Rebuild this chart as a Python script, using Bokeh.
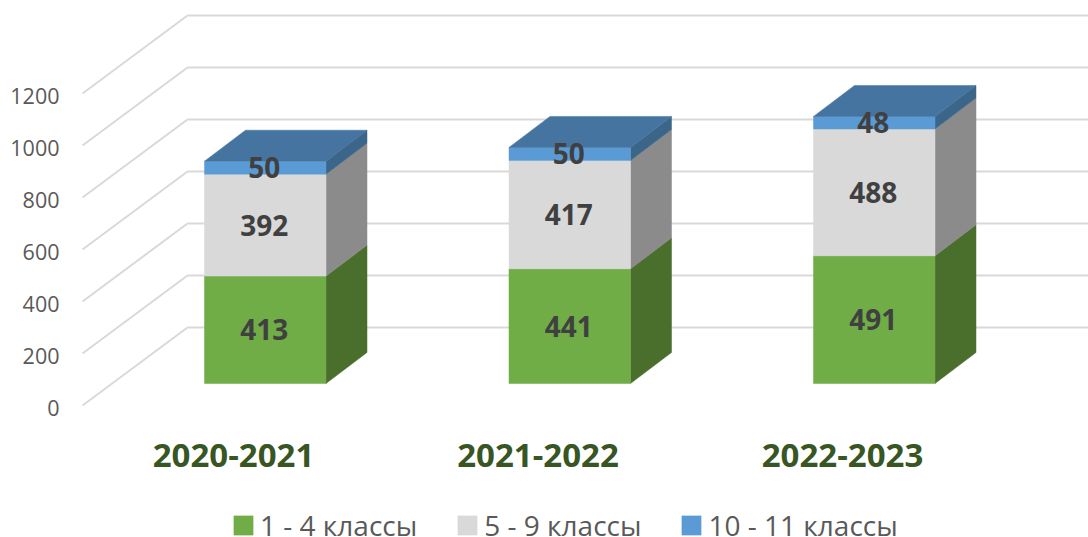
from bokeh.plotting import figure
from bokeh.models import Legend, LegendItem, FixedTicker, Range1d
from bokeh.core.properties import value
from bokeh.embed import file_html
from bokeh.resources import INLINE

# ---- data ----
years = ["2020-2021", "2021-2022", "2022-2023"]
series_names = ["1 - 4 классы", "5 - 9 классы", "10 - 11 классы"]
grade_1_4 = [413, 441, 491]
grade_5_9 = [392, 417, 488]
grade_10_11 = [50, 50, 48]
y_ticks = [0, 200, 400, 600, 800, 1000, 1200]

# ---- style ----
front_cols = ["#70ad47", "#d9d9d9", "#5b9bd5"]
side_cols = ["#4a6f2d", "#8b8b8b", "#3c6689"]
top_col = "#44749f"
grid_col = "#d9d9d9"
FONT = "Open Sans"

W, H = 1088, 537
PX_X = 304.5      # pixels per category
PX_Y = 0.26       # pixels per value unit
FRAME_L = 66
X0_PX, Y0_PX = 233, 407
FLOOR_SHIFT = 2 / PX_Y


def xd(px):
    return (px - X0_PX) / PX_X


wall_dx, wall_dv = 105 / PX_X, 78 / PX_Y
bar_off, bar_w = -29 / PX_X, 121.5 / PX_X
bar_dx, bar_dv = 41 / PX_X, 31 / PX_Y
base_v = (Y0_PX - 383) / PX_Y

p = figure(width=W, height=H, output_backend="svg", toolbar_location=None,
           x_range=Range1d(xd(FRAME_L), xd(W)),
           y_range=Range1d((Y0_PX - H) / PX_Y, Y0_PX / PX_Y),
           min_border=0, min_border_left=FRAME_L,
           min_border_right=0, min_border_top=0, min_border_bottom=0)
p.styles = {"position": "absolute", "left": "0", "top": "0"}
p.outline_line_color = None
p.grid.visible = False
p.xaxis.visible = False
p.background_fill_color = "white"

# walls
xs_g, ys_g = [], []
for t in y_ticks:
    xa = xd(82)
    xs_g.append([xa, xa + wall_dx, xd(W)])
    ys_g.append([t + FLOOR_SHIFT, t + FLOOR_SHIFT + wall_dv, t + FLOOR_SHIFT + wall_dv])
p.multi_line(xs_g, ys_g, line_color=grid_col, line_width=2)

# bars
legend_rs = []
stack = [grade_1_4, grade_5_9, grade_10_11]
for i in range(len(years)):
    left = i + bar_off
    right = left + bar_w
    b = base_v
    for k, vals in enumerate(stack):
        t = b + vals[i]
        p.patch([right, right + bar_dx, right + bar_dx, right],
                [b, b + bar_dv, t + bar_dv, t],
                fill_color=side_cols[k], line_color=side_cols[k], line_width=0.5)
        r = p.quad(left=left, right=right, bottom=b, top=t,
                   fill_color=front_cols[k], line_color=front_cols[k], line_width=0.5)
        if i == 0:
            legend_rs.append(r)
        b = t
    p.patch([left, left + bar_dx, right + bar_dx, right],
            [b, b + bar_dv, b + bar_dv, b],
            fill_color=top_col, line_color=top_col, line_width=0.5)

# value labels
lx, ly, lt = [], [], []
for i in range(len(years)):
    b = base_v
    for vals in stack:
        lx.append(i + bar_off + bar_w / 2 - 1 / PX_X)
        ly.append(b + vals[i] / 2)
        lt.append(str(vals[i]))
        b += vals[i]
p.text(lx, ly, text=lt, text_font=value(FONT), text_font_style="bold",
       text_font_size="28px", text_color="#404040",
       text_align="center", text_baseline="middle")

# category labels
p.text(list(range(len(years))), [(Y0_PX - 455) / PX_Y] * len(years), text=years,
       text_font=value(FONT), text_font_style="bold", text_font_size="33px",
       text_color="#375623", text_align="center", text_baseline="middle")

# y axis
ya = p.yaxis[0]
ya.ticker = FixedTicker(ticks=y_ticks)
ya.axis_line_color = None
ya.major_tick_line_color = None
ya.minor_tick_line_color = None
ya.major_label_text_font = FONT
ya.major_label_text_font_size = "21.5px"
ya.major_label_text_color = "#595959"
ya.major_label_standoff = 1

legend = Legend(items=[LegendItem(label=n, renderers=[r]) for n, r in zip(series_names, legend_rs)],
                orientation="horizontal", location=(165, -7),
                border_line_color=None, background_fill_alpha=0,
                glyph_width=24, glyph_height=24, label_text_font=FONT,
                label_text_font_size="28px", label_text_color="#595959",
                spacing=38, padding=0, margin=0, label_standoff=5)
p.add_layout(legend, "center")

open("out.html", "w").write(file_html(p, INLINE))
